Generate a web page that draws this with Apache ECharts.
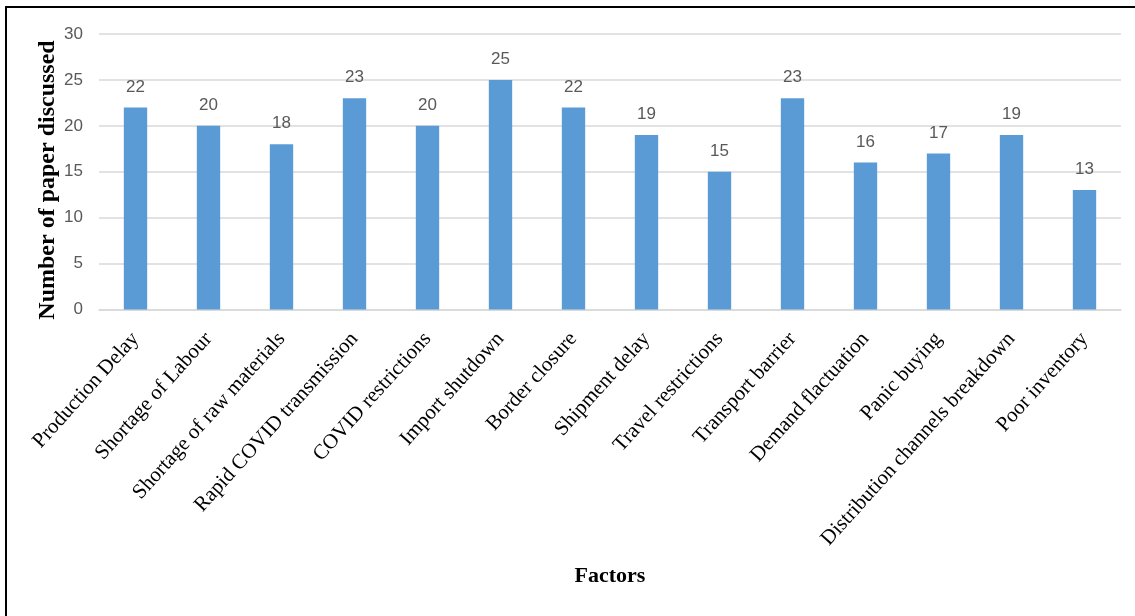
<!DOCTYPE html>
<html>
<head>
<meta charset="utf-8">
<script src="https://cdn.jsdelivr.net/npm/echarts@6/dist/echarts.min.js"></script>
<style>
  html, body { margin: 0; padding: 0; background: #fff; }
  #frame { position: absolute; left: 5px; top: 6px; width: 1200px; height: 700px; border: 2px solid #000; box-sizing: border-box; }
  #chart { position: absolute; left: 0; top: 0; width: 1135px; height: 616px; }
</style>
</head>
<body>
<div id="frame"></div>
<div id="chart"></div>
<script>
const factors = [
  'Production Delay', 'Shortage of Labour', 'Shortage of raw materials',
  'Rapid COVID transmission', 'COVID restrictions', 'Import shutdown',
  'Border closure', 'Shipment delay', 'Travel restrictions', 'Transport barrier',
  'Demand flactuation', 'Panic buying', 'Distribution channels breakdown', 'Poor inventory'
];
const papers = [22, 20, 18, 23, 20, 25, 22, 19, 15, 23, 16, 17, 19, 13];
const yTicks = [0, 5, 10, 15, 20, 25, 30];
const yTitle = 'Number of paper discussed';

const chart = echarts.init(document.getElementById('chart'), null, { renderer: 'canvas' });
chart.setOption({
  animation: false,
  grid: { left: 99, right: 14, top: 34, bottom: 306.5, containLabel: false },
  graphic: [{
    type: 'text',
    x: 48, y: 180,
    rotation: Math.PI / 2,
    style: {
      text: yTitle,
      font: 'bold 24px "Liberation Serif"',
      fill: '#000',
      align: 'center',
      verticalAlign: 'middle'
    }
  }],
  xAxis: {
    type: 'category',
    data: factors,
    name: 'Factors',
    nameLocation: 'middle',
    nameGap: 256,
    nameTextStyle: { fontFamily: 'Liberation Serif', fontWeight: 'bold', fontSize: 22, color: '#000' },
    axisLine: { lineStyle: { color: '#d9d9d9', width: 1.5 } },
    axisTick: { show: false },
    axisLabel: {
      interval: 0, rotate: 48, margin: 26,
      fontFamily: 'Liberation Serif', fontSize: 21, color: '#000'
    }
  },
  yAxis: {
    type: 'value',
    min: yTicks[0], max: yTicks[yTicks.length - 1], interval: 5,
    axisLine: { show: false },
    axisTick: { show: false },
    splitLine: { lineStyle: { color: '#d9d9d9', width: 1.5 } },
    axisLabel: { margin: 16, fontFamily: 'Liberation Sans', fontSize: 17, color: '#595959' }
  },
  series: [{
    type: 'bar',
    data: papers,
    barWidth: '32%',
    itemStyle: { color: '#5b9bd5' },
    label: {
      show: true, position: 'top', distance: 12,
      fontFamily: 'Liberation Sans', fontSize: 17, color: '#595959'
    }
  }]
});
</script>
</body>
</html>
